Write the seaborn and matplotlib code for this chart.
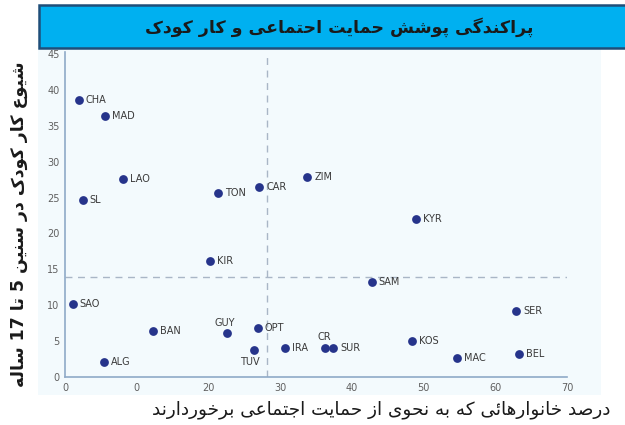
import numpy as np
import pandas as pd
import matplotlib
matplotlib.use("Agg")
import matplotlib.pyplot as plt
from matplotlib.patches import Rectangle
import seaborn as sns

# data
countries = ["CHA", "MAD", "LAO", "SL", "TON", "CAR", "ZIM", "KYR", "KIR", "SAM",
             "SAO", "BAN", "GUY", "OPT", "TUV", "IRA", "CR", "SUR", "KOS", "MAC",
             "SER", "BEL", "ALG"]
protection = [1.9, 5.6, 8.1, 2.5, 21.3, 27.1, 33.8, 49.0, 20.2, 42.8,
              1.1, 12.3, 22.6, 26.9, 26.4, 30.7, 36.3, 37.4, 48.4, 54.7,
              62.9, 63.3, 5.4]
child_labour = [38.6, 36.4, 27.6, 24.7, 25.7, 26.5, 27.8, 22.0, 16.2, 13.2,
                10.2, 6.4, 6.1, 6.8, 3.8, 4.0, 4.0, 4.0, 5.0, 2.6,
                9.2, 3.2, 2.1]
avg_x = 28.2
avg_y = 13.9
x_ticks = [0, 10, 20, 30, 40, 50, 60, 70]
x_tick_labels = ["0", "0", "20", "30", "40", "50", "60", "70"]
y_ticks = [0, 5, 10, 15, 20, 25, 30, 35, 40, 45]

title = "پراکندگی پوشش حمایت احتماعی و کار کودک"
ylabel = "شیوع کار کودک در سنین 5 تا 17 ساله"
xlabel = "درصد خانوارهائی که به نحوی از حمایت اجتماعی برخوردارند"

# crude persian shaping: (isolated, final, initial, medial)
FORMS = {
    "ا": (0xFE8D, 0xFE8E, None, None), "ب": (0xFE8F, 0xFE90, 0xFE91, 0xFE92),
    "پ": (0xFB56, 0xFB57, 0xFB58, 0xFB59), "ت": (0xFE95, 0xFE96, 0xFE97, 0xFE98),
    "ث": (0xFE99, 0xFE9A, 0xFE9B, 0xFE9C), "ج": (0xFE9D, 0xFE9E, 0xFE9F, 0xFEA0),
    "چ": (0xFB7A, 0xFB7B, 0xFB7C, 0xFB7D), "ح": (0xFEA1, 0xFEA2, 0xFEA3, 0xFEA4),
    "خ": (0xFEA5, 0xFEA6, 0xFEA7, 0xFEA8), "د": (0xFEA9, 0xFEAA, None, None),
    "ذ": (0xFEAB, 0xFEAC, None, None), "ر": (0xFEAD, 0xFEAE, None, None),
    "ز": (0xFEAF, 0xFEB0, None, None), "ژ": (0xFB8A, 0xFB8B, None, None),
    "س": (0xFEB1, 0xFEB2, 0xFEB3, 0xFEB4), "ش": (0xFEB5, 0xFEB6, 0xFEB7, 0xFEB8),
    "ص": (0xFEB9, 0xFEBA, 0xFEBB, 0xFEBC), "ع": (0xFEC9, 0xFECA, 0xFECB, 0xFECC),
    "ف": (0xFED1, 0xFED2, 0xFED3, 0xFED4), "ق": (0xFED5, 0xFED6, 0xFED7, 0xFED8),
    "ک": (0xFB8E, 0xFB8F, 0xFB90, 0xFB91), "گ": (0xFB92, 0xFB93, 0xFB94, 0xFB95),
    "ل": (0xFEDD, 0xFEDE, 0xFEDF, 0xFEE0), "م": (0xFEE1, 0xFEE2, 0xFEE3, 0xFEE4),
    "ن": (0xFEE5, 0xFEE6, 0xFEE7, 0xFEE8), "و": (0xFEED, 0xFEEE, None, None),
    "ه": (0xFEE9, 0xFEEA, 0xFEEB, 0xFEEC), "ی": (0xFBFC, 0xFBFD, 0xFBFE, 0xFBFF),
    "ئ": (0xFE89, 0xFE8A, 0xFE8B, 0xFE8C),
}


def shape_word(w):
    if not any(c in FORMS for c in w):
        return w
    out = []
    for i, c in enumerate(w):
        if c not in FORMS:
            out.append(c)
            continue
        prev = w[i - 1] if i > 0 else None
        nxt = w[i + 1] if i + 1 < len(w) else None
        join_prev = prev in FORMS and FORMS[prev][2] is not None
        join_next = nxt in FORMS and FORMS[c][2] is not None
        iso, fin, ini, med = FORMS[c]
        if join_prev and join_next:
            out.append(chr(med))
        elif join_prev:
            out.append(chr(fin))
        elif join_next:
            out.append(chr(ini))
        else:
            out.append(chr(iso))
    return "".join(out)[::-1]


def fa(text):
    return " ".join(shape_word(w) for w in text.split(" ")[::-1])


df = pd.DataFrame({"country": countries, "x": protection, "y": child_labour})

sns.set_style("white")
plt.rcParams["font.family"] = ["DejaVu Sans"]

fig = plt.figure(figsize=(6.25, 4.25), dpi=100)

# light panel behind the plot
fig.patches.append(Rectangle((0.061, 0.071), 0.9, 0.815, transform=fig.transFigure,
                             facecolor="#F3FAFD", edgecolor="none", zorder=-5))
# title banner
fig.patches.append(Rectangle((0.063, 0.888), 0.95, 0.1, transform=fig.transFigure,
                             facecolor="#00B0F0", edgecolor="#1F4E79", lw=1.8, zorder=1))
fig.text(0.543, 0.937, fa(title), ha="center", va="center", fontsize=12.5,
         fontweight="bold", color="#1a1a1a", zorder=2)

ax = fig.add_axes([0.104, 0.113, 0.803, 0.765])
ax.set_zorder(2)
ax.patch.set_alpha(0)

sns.scatterplot(data=df, x="x", y="y", ax=ax, color="#26348B", s=40,
                edgecolor="#26348B", linewidth=0, zorder=3)

ax.axvline(avg_x, color="#A9B6C6", lw=1, ls=(0, (5, 4)), zorder=1)
ax.axhline(avg_y, color="#A9B6C6", lw=1, ls=(0, (5, 4)), zorder=1)

offsets = {"GUY": (-2, 7, "center"), "TUV": (-3, -9, "center"), "CR": (-1, 8, "center")}
for name, x, y in zip(countries, protection, child_labour):
    dx, dy, ha = offsets.get(name, (5, 0, "left"))
    ax.annotate(name, (x, y), xytext=(dx, dy), textcoords="offset points",
                ha=ha, va="center", fontsize=7, color="#3a3a3a")

ax.set_xlim(0, 70)
ax.set_ylim(0, 45.3)
ax.set_xticks(x_ticks)
ax.set_xticklabels(x_tick_labels)
ax.set_yticks(y_ticks)
ax.tick_params(labelsize=7, colors="#606060", length=0, pad=4)
for s in ["top", "right"]:
    ax.spines[s].set_visible(False)
for s in ["left", "bottom"]:
    ax.spines[s].set_color("#8FAAC8")
    ax.spines[s].set_linewidth(1.2)

ax.set_xlabel("")
ax.set_ylabel("")
fig.text(0.61, 0.035, fa(xlabel), ha="center", va="center", fontsize=13.3, color="#1a1a1a")
fig.text(0.03, 0.472, fa(ylabel), ha="center", va="center", rotation=90, fontsize=12.5,
         fontweight="bold", color="#1a1a1a")

fig.savefig("out.png", dpi=100)
